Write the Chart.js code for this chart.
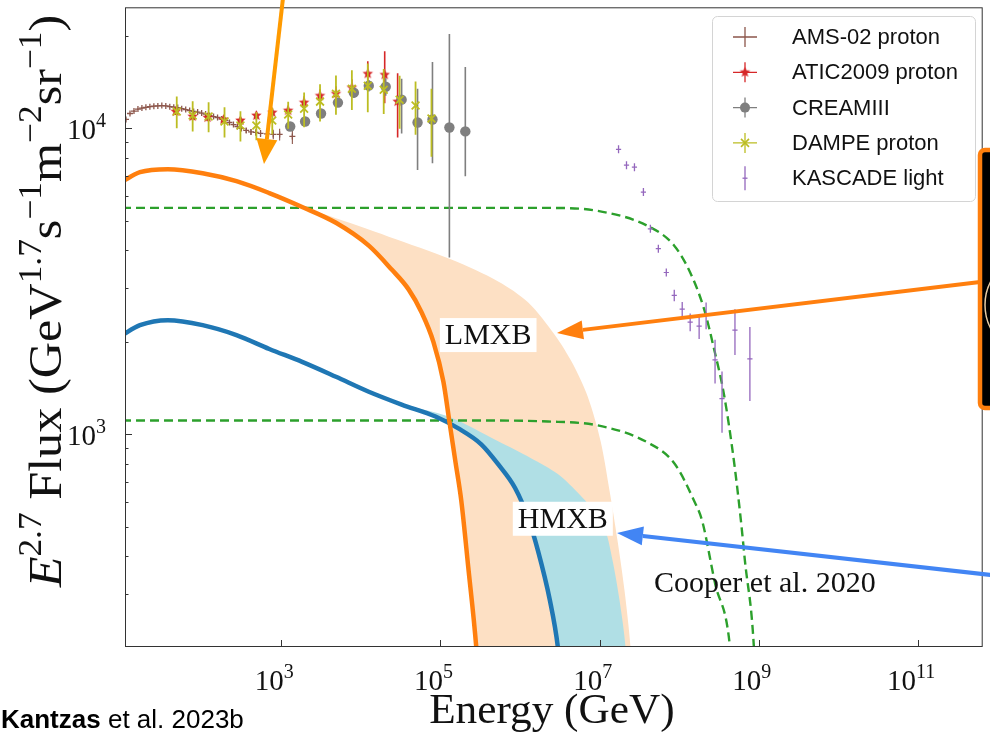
<!DOCTYPE html>
<html>
<head>
<meta charset="utf-8">
<title>Proton flux vs XRB models</title>
<script src="https://cdn.jsdelivr.net/npm/chart.js@4.4.1/dist/chart.umd.min.js"></script>
<style>
  html, body { margin: 0; padding: 0; background: #ffffff; }
  #fluxChart { display: block; }
</style>
</head>
<body>
<canvas id="fluxChart" width="990" height="735"></canvas>
<script>
// =============================================================================
// E^2.7-weighted proton flux: CR data vs. LMXB / HMXB jet models
// =============================================================================

// ==========================================
// 1. DATA
// ==========================================

// axis window (GeV / flux units)
const X_MIN = 10.9, X_MAX = 6.49e11;
const Y_MIN = 201.9, Y_MAX = 24890;

const xTickExps = [3, 5, 7, 9, 11];
const yTickExps = [3, 4];
const yMinorTicks = [300, 400, 500, 600, 700, 800, 900, 2000, 3000, 4000, 5000, 6000, 7000, 8000, 9000, 20000];

// model curves
const lmxbE = [10, 16.8, 37.6, 102.9, 273.8, 707.9, 1830, 4870, 12590, 24410, 39810, 57870, 81750, 109000, 129600, 154000, 183000, 223900, 281800, 325500];
const lmxbF = [6700, 7195, 7360, 7142, 6727, 6151, 5540, 4916, 4140, 3459, 2979, 2508, 2004, 1486, 1102, 817, 606, 367, 202, 117];

const hmxbE = [10, 16.8, 37.6, 102.9, 273.8, 707.9, 1830, 4870, 12590, 32560, 86600, 167900, 325500, 530900, 866000, 1.259e6, 1.679e6, 2.371e6, 2.985e6, 3.447e6];
const hmxbF = [2110, 2276, 2363, 2276, 2112, 1902, 1726, 1543, 1379, 1252, 1144, 1046, 928, 799, 668, 534, 417, 287, 202, 136];

// upper edges of the shaded bands
const lmxbUpperE = [1830, 3981, 22390, 137300, 530900, 1.259e6, 2.738e6, 4.597e6, 7.079e6, 1.029e7, 1.334e7, 1.679e7, 2.054e7, 2.441e7, 2.738e7];
const lmxbUpperF = [5540, 5180, 4428, 3728, 3162, 2703, 2112, 1701, 1329, 949, 653, 449, 309, 202, 117];

const hmxbUpperE = [32560, 125900, 530900, 1.373e6, 2.985e6, 5.788e6, 9.441e6, 1.189e7, 1.454e7, 1.778e7, 2.113e7, 2.304e7];
const hmxbUpperF = [1252, 1144, 949, 836, 742, 630, 542, 484, 387, 287, 202, 117];

// Cooper et al. 2020 (dashed)
const cooperHiE = [10, 125900, 2.239e6, 9.441e6, 3.981e7, 8.66e7, 1.372e8, 2.054e8, 2.738e8, 3.652e8, 4.87e8, 5.957e8, 6.683e8, 8.66e8, 9.44e8];
const cooperHiF = [5499, 5499, 5499, 5377, 4807, 4140, 3382, 2566, 1902, 1349, 817, 522, 387, 202, 117];

const cooperLoE = [10, 298500, 2.239e6, 9.441e6, 3.981e7, 8.66e7, 1.54e8, 1.939e8, 2.818e8, 4.34e8, 5.012e8];
const cooperLoF = [1110, 1110, 1102, 1070, 942, 805, 606, 522, 326, 202, 117];

// AMS-02 proton
const amsE = [11.22, 12.59, 14.13, 15.85, 17.78, 19.95, 22.39, 25.12, 28.18, 31.62, 35.48, 39.81, 44.67, 50.12, 56.23, 63.10, 70.79, 79.43, 89.13, 100, 112.2, 125.9, 141.3, 158.5, 177.8, 199.5, 223.9, 251.2, 281.8, 316.2, 363.1, 416.9, 478.6, 549.5, 660.7, 794.3, 955.0, 1380];
const amsF = [10700, 11190, 11400, 11570, 11660, 11720, 11780, 11830, 11850, 11880, 11850, 11780, 11740, 11700, 11610, 11530, 11440, 11360, 11310, 11230, 11140, 11020, 10940, 10860, 10740, 10620, 10460, 10300, 10150, 10000, 9852, 9740, 9705, 9630, 9600, 9560, 9560, 9420];
const amsErr = [60, 60, 60, 60, 60, 60, 60, 60, 60, 60, 60, 60, 60, 60, 60, 60, 60, 60, 60, 60, 70, 70, 80, 80, 90, 100, 120, 130, 140, 160, 180, 200, 220, 260, 300, 340, 420, 520];

// ATIC-2009 proton
const aticE = [47.3, 77.2, 118.9, 188.4, 307.3, 486.9, 771.7, 1223, 1939, 3073, 4870, 7718, 12230, 19950, 29000];
const aticF = [11360, 10940, 10860, 10700, 10620, 11020, 11270, 11440, 12150, 12790, 12990, 13590, 15090, 14980, 12240];
const aticErr = [300, 300, 300, 300, 300, 350, 400, 450, 600, 650, 750, 900, 1500, 2900, 2900];

// CREAM-III
const creamE = [1296, 1995, 3162, 5158, 8175, 12590, 20540, 32560, 51600, 79430, 129600, 205400];
const creamF = [10150, 10540, 11190, 12150, 13090, 13800, 13690, 12420, 10460, 10700, 10075, 9780];
const creamErrLo = [300, 300, 350, 400, 500, 600, 900, 2790, 3150, 3000, 6290, 2800];
const creamErrHi = [300, 300, 350, 400, 500, 600, 900, 2110, 3030, 5800, 10265, 6100];

// DAMPE proton
const dampeE = [48.7, 77.2, 122.4, 193.9, 307.3, 487.0, 771.8, 1223, 1939, 3073, 4870, 7718, 12230, 19390, 30730, 48700, 77180];
const dampeF = [11360, 11020, 10940, 10540, 10230, 10230, 10620, 11100, 11610, 12240, 12990, 13490, 13800, 13390, 12420, 11880, 10780];
const dampeErr = [1350, 1250, 1230, 1200, 1160, 1080, 1060, 1120, 1510, 1700, 1900, 2000, 2500, 2250, 2450, 2350, 2700];

// KASCADE light component
const kascadeE = [1.728e7, 2.175e7, 2.738e7, 3.548e7, 4.341e7, 5.465e7, 6.88e7, 8.66e7, 1.09e8, 1.372e8, 1.778e8, 2.175e8, 2.818e8, 3.447e8, 5.012e8, 7.72e8];
const kascadeF = [8550, 7585, 7470, 6197, 4700, 4047, 3382, 2848, 2566, 2328, 2259, 2453, 1752, 1309, 2192, 1765];
const kascadeErr = [256, 227, 224, 186, 141, 121, 101, 125, 143, 155, 210, 247, 285, 296, 374, 480];

// ==========================================
// 2. STYLE
// ==========================================

const C = {
    orange: '#ff7f0e',
    blue: '#1f77b4',
    peach: '#fde0c4',
    powder: '#b0dfe5',
    green: '#2ca02c',
    ams: '#8c564b',
    atic: '#d62728',
    cream: '#7f7f7f',
    dampe: '#bcbd22',
    kascade: '#9467bd',
    frame: '#333333'
};
const SERIF = '"Liberation Serif", "Times New Roman", serif';
const SANS = '"Liberation Sans", Arial, sans-serif';

const pts = (xs, ys) => xs.map((x, i) => ({ x, y: ys[i] }));

// closed outline: upper edge forward, lower curve back
const band = (upE, upF, loE, loF) => {
    const lower = pts(loE, loF).filter(p => p.x >= upE[0]).reverse();
    return pts(upE, upF).concat(lower);
};

const starMarker = (r, color) => {
    const c = document.createElement('canvas');
    c.width = c.height = 2 * r + 2;
    const g = c.getContext('2d');
    g.beginPath();
    for (let k = 0; k < 10; k++) {
        const rad = k % 2 ? r * 0.45 : r;
        const a = -Math.PI / 2 + k * Math.PI / 5;
        g.lineTo(r + 1 + rad * Math.cos(a), r + 1 + rad * Math.sin(a));
    }
    g.closePath();
    g.fillStyle = color;
    g.fill();
    return c;
};
const aticStar = starMarker(5.5, C.atic);

// ==========================================
// 3. PLUGINS
// ==========================================

// vertical error bars, drawn right before each data set so stacking matches
const errorBars = {
    id: 'errorBars',
    beforeDatasetDraw(chart, args) {
        const ds = chart.data.datasets[args.index];
        if (!ds.errLo) return;
        const { ctx, chartArea: a, scales: { x, y } } = chart;
        ctx.save();
        ctx.beginPath();
        ctx.rect(a.left, a.top, a.right - a.left, a.bottom - a.top);
        ctx.clip();
        ctx.strokeStyle = ds.errColor;
        ctx.lineWidth = ds.errWidth;
        ds.data.forEach((p, i) => {
            const px = x.getPixelForValue(p.x);
            const lo = Math.max(p.y - ds.errLo[i], 1);
            ctx.beginPath();
            ctx.moveTo(px, y.getPixelForValue(p.y + ds.errHi[i]));
            ctx.lineTo(px, y.getPixelForValue(lo));
            ctx.stroke();
        });
        ctx.restore();
    }
};

// text with superscripts; parts = [[text, kind]], kind: n | i | s
const drawRich = (ctx, parts, size, family, align, stretch = 1) => {
    const fontFor = k => `${k === 'i' ? 'italic ' : ''}${k === 's' ? Math.round(size * 0.7) : size}px ${family}`;
    const widths = parts.map(([t, k]) => { ctx.font = fontFor(k); return ctx.measureText(t).width; });
    const total = widths.reduce((s, w) => s + w, 0);
    let cx = align === 'right' ? -total : -total / 2;
    ctx.save();
    ctx.scale(stretch, 1);
    ctx.textAlign = 'left';
    ctx.textBaseline = 'alphabetic';
    parts.forEach(([t, k], i) => {
        ctx.font = fontFor(k);
        ctx.fillText(t, cx, k === 's' ? -size * 0.42 : 0);
        cx += widths[i];
    });
    ctx.restore();
};

const axesDecor = {
    id: 'axesDecor',
    afterDatasetsDraw(chart) {
        const { ctx, chartArea: a, scales: { x, y } } = chart;
        ctx.save();
        ctx.strokeStyle = C.frame;
        ctx.lineWidth = 1;
        ctx.strokeRect(a.left + 0.5, a.top + 0.5, a.right - a.left - 1, a.bottom - a.top - 1);

        ctx.beginPath();
        xTickExps.forEach(e => {
            const px = Math.round(x.getPixelForValue(10 ** e)) + 0.5;
            ctx.moveTo(px, a.bottom); ctx.lineTo(px, a.bottom - 7);
        });
        yTickExps.forEach(e => {
            const py = Math.round(y.getPixelForValue(10 ** e)) + 0.5;
            ctx.moveTo(a.left, py); ctx.lineTo(a.left + 7, py);
        });
        yMinorTicks.forEach(v => {
            const py = Math.round(y.getPixelForValue(v)) + 0.5;
            ctx.moveTo(a.left, py); ctx.lineTo(a.left + 3.5, py);
        });
        ctx.stroke();

        ctx.fillStyle = '#111';
        xTickExps.forEach(e => {
            ctx.save();
            ctx.translate(x.getPixelForValue(10 ** e) - 7, a.bottom + 43);
            drawRich(ctx, [['10', 'n'], [String(e), 's']], 29, SERIF, 'center');
            ctx.restore();
        });
        yTickExps.forEach(e => {
            ctx.save();
            ctx.translate(a.left - 19, y.getPixelForValue(10 ** e) + 11);
            drawRich(ctx, [['10', 'n'], [String(e), 's']], 29, SERIF, 'right');
            ctx.restore();
        });

        // axis titles
        ctx.save();
        ctx.translate((a.left + a.right) / 2 - 2, 723);
        drawRich(ctx, [['Energy (GeV)', 'n']], 42, SERIF, 'center', 1.03);
        ctx.restore();

        ctx.save();
        ctx.translate(61, 301);
        ctx.rotate(-Math.PI / 2);
        drawRich(ctx, [
            ['E', 'i'], ['2.7', 's'], [' Flux (GeV', 'n'], ['1.7', 's'],
            ['s', 'n'], ['\u22121', 's'], ['m', 'n'], ['\u22122', 's'],
            ['sr', 'n'], ['\u22121', 's'], [')', 'n']
        ], 47, SERIF, 'center', 1.07);
        ctx.restore();
        ctx.restore();
    }
};

const legendItems = [
    { label: 'AMS-02 proton', color: C.ams, marker: 'plus', hbar: true },
    { label: 'ATIC2009 proton', color: C.atic, marker: 'star', hbar: true },
    { label: 'CREAMIII', color: C.cream, marker: 'circle', hbar: true },
    { label: 'DAMPE proton', color: C.dampe, marker: 'x', hbar: true },
    { label: 'KASCADE light', color: C.kascade, marker: 'tick', hbar: false }
];

const legendBox = {
    id: 'legendBox',
    afterDatasetsDraw(chart) {
        const { ctx } = chart;
        const bx = 712, by = 16, bw = 263, bh = 185, rowH = 35.3;
        ctx.save();
        ctx.beginPath();
        ctx.roundRect(bx + 0.5, by + 0.5, bw, bh, 5);
        ctx.fillStyle = 'rgba(255,255,255,0.85)';
        ctx.fill();
        ctx.strokeStyle = '#d4d4d4';
        ctx.lineWidth = 1;
        ctx.stroke();

        legendItems.forEach((it, i) => {
            const cx = 745, cy = by + 21 + i * rowH;
            ctx.strokeStyle = it.color;
            ctx.fillStyle = it.color;
            ctx.lineWidth = 1.3;
            ctx.beginPath();
            if (it.hbar) { ctx.moveTo(cx - 12, cy); ctx.lineTo(cx + 12, cy); }
            ctx.moveTo(cx, cy - (it.hbar ? 10 : 12)); ctx.lineTo(cx, cy + (it.hbar ? 10 : 12));
            ctx.stroke();
            if (it.marker === 'star') ctx.drawImage(aticStar, cx - aticStar.width / 2, cy - aticStar.height / 2);
            if (it.marker === 'circle') { ctx.beginPath(); ctx.arc(cx, cy, 5, 0, Math.PI * 2); ctx.fill(); }
            if (it.marker === 'x') {
                ctx.lineWidth = 1.6;
                ctx.beginPath();
                ctx.moveTo(cx - 4, cy - 4); ctx.lineTo(cx + 4, cy + 4);
                ctx.moveTo(cx + 4, cy - 4); ctx.lineTo(cx - 4, cy + 4);
                ctx.stroke();
            }
            if (it.marker === 'tick') {
                ctx.beginPath(); ctx.moveTo(cx - 2.5, cy); ctx.lineTo(cx + 2.5, cy); ctx.stroke();
            }
            ctx.fillStyle = '#111';
            ctx.font = `22px ${SANS}`;
            ctx.textAlign = 'left';
            ctx.textBaseline = 'middle';
            ctx.fillText(it.label, 792, cy + 1);
        });
        ctx.restore();
    }
};

// slide annotations on top of the figure (pixel space)
const arrow = (ctx, x0, y0, x1, y1, color, w, headLen, headW) => {
    const ang = Math.atan2(y1 - y0, x1 - x0);
    const bx = x1 - headLen * Math.cos(ang), by = y1 - headLen * Math.sin(ang);
    ctx.strokeStyle = color;
    ctx.fillStyle = color;
    ctx.lineWidth = w;
    ctx.beginPath(); ctx.moveTo(x0, y0); ctx.lineTo(bx, by); ctx.stroke();
    ctx.beginPath();
    ctx.moveTo(x1, y1);
    ctx.lineTo(bx + headW / 2 * Math.sin(ang), by - headW / 2 * Math.cos(ang));
    ctx.lineTo(bx - headW / 2 * Math.sin(ang), by + headW / 2 * Math.cos(ang));
    ctx.closePath();
    ctx.fill();
};

const textLabels = [
    { text: 'LMXB', e: 3.98e5, f: 2112, box: true },
    { text: 'HMXB', e: 3.447e6, f: 530, box: true },
    { text: 'Cooper et al. 2020', e: 1.19e9, f: 326, box: false }
];

const overlays = {
    id: 'overlays',
    afterDraw(chart) {
        const { ctx, scales: { x, y } } = chart;
        ctx.save();
        textLabels.forEach(l => {
            const px = x.getPixelForValue(l.e), py = y.getPixelForValue(l.f);
            ctx.font = `30px ${SERIF}`;
            const w = ctx.measureText(l.text).width;
            if (l.box) {
                ctx.fillStyle = '#ffffff';
                ctx.fillRect(px - w / 2 - 5, py - 17, w + 10, 34);
            }
            ctx.fillStyle = '#111';
            ctx.textAlign = 'center';
            ctx.textBaseline = 'middle';
            ctx.fillText(l.text, px, py + 1);
        });

        arrow(ctx, 283, -2, 264, 164, '#ff9a00', 4, 25, 21);
        arrow(ctx, 980, 282, 557, 333, '#ff7f0e', 4, 26, 19);
        arrow(ctx, 1000, 576, 617, 533, '#4285f4', 4, 26, 19);

        // cropped inset frame at the right edge
        const inset = () => { ctx.beginPath(); ctx.roundRect(980, 150, 30, 258, 5); };
        inset();
        ctx.fillStyle = '#000';
        ctx.fill();
        ctx.save();
        ctx.clip();
        ctx.strokeStyle = '#e8cba2';
        ctx.lineWidth = 1.5;
        ctx.beginPath();
        ctx.arc(1035, 305, 50, 0, Math.PI * 2);
        ctx.stroke();
        ctx.restore();
        inset();
        ctx.strokeStyle = '#ff7f0e';
        ctx.lineWidth = 4.5;
        ctx.stroke();

        // citation
        ctx.fillStyle = '#000';
        ctx.textAlign = 'left';
        ctx.textBaseline = 'alphabetic';
        ctx.font = `bold 26px ${SANS}`;
        ctx.fillText('Kantzas', 1, 728);
        const kw = ctx.measureText('Kantzas').width;
        ctx.font = `26px ${SANS}`;
        ctx.fillText(' et al. 2023b', 1 + kw, 728);
        ctx.restore();
    }
};

// ==========================================
// 4. CHART
// ==========================================

const dataSet = (label, e, f, lo, hi, extra) => ({
    label,
    data: pts(e, f),
    errLo: lo,
    errHi: hi,
    showLine: false,
    clip: 0,
    ...extra
});

const curve = (label, e, f, extra) => ({
    label,
    data: pts(e, f),
    pointRadius: 0,
    cubicInterpolationMode: 'monotone',
    capBezierPoints: false,
    fill: false,
    clip: 0,
    ...extra
});

const shade = (label, outline, color, order) => ({
    label,
    order,
    data: outline,
    backgroundColor: color,
    borderWidth: 0,
    pointRadius: 0,
    tension: 0.3,
    capBezierPoints: false,
    fill: 'shape',
    clip: 0
});

new Chart(document.getElementById('fluxChart'), {
    type: 'line',
    data: {
        datasets: [
            dataSet('KASCADE light', kascadeE, kascadeF, kascadeErr, kascadeErr, {
                order: 1, pointStyle: 'line', pointRadius: 2.6, borderColor: C.kascade, pointBorderWidth: 1.2,
                errColor: C.kascade, errWidth: 1.3
            }),
            dataSet('DAMPE proton', dampeE, dampeF, dampeErr, dampeErr, {
                order: 2, pointStyle: 'crossRot', pointRadius: 5.5, borderColor: C.dampe, pointBorderWidth: 1.8,
                errColor: C.dampe, errWidth: 1.8
            }),
            dataSet('CREAMIII', creamE, creamF, creamErrLo, creamErrHi, {
                order: 3, pointStyle: 'circle', pointRadius: 5.2, backgroundColor: C.cream, borderColor: C.cream,
                pointBorderWidth: 0, errColor: C.cream, errWidth: 1.6
            }),
            dataSet('ATIC2009 proton', aticE, aticF, aticErr, aticErr, {
                order: 4, pointStyle: aticStar, pointRadius: 6, borderColor: C.atic,
                errColor: C.atic, errWidth: 1.6
            }),
            dataSet('AMS-02 proton', amsE, amsF, amsErr, amsErr, {
                order: 5, pointStyle: 'cross', pointRadius: 3, borderColor: C.ams, pointBorderWidth: 1.3,
                errColor: C.ams, errWidth: 1.1
            }),
            curve('LMXB', lmxbE, lmxbF, { order: 6, borderColor: C.orange, borderWidth: 4.5 }),
            curve('HMXB', hmxbE, hmxbF, { order: 7, borderColor: C.blue, borderWidth: 4.5 }),
            curve('Cooper high', cooperHiE, cooperHiF, { order: 8, borderColor: C.green, borderWidth: 2.4, borderDash: [9, 5] }),
            curve('Cooper low', cooperLoE, cooperLoF, { order: 9, borderColor: C.green, borderWidth: 2.4, borderDash: [9, 5] }),
            shade('HMXB band', band(hmxbUpperE, hmxbUpperF, hmxbE, hmxbF), C.powder, 10),
            shade('LMXB band', band(lmxbUpperE, lmxbUpperF, lmxbE, lmxbF), C.peach, 11)
        ]
    },
    options: {
        responsive: false,
        devicePixelRatio: 1,
        animation: false,
        events: [],
        layout: { padding: { top: 3, right: 3, left: 0, bottom: 0 } },
        plugins: { legend: { display: false }, tooltip: { enabled: false } },
        scales: {
            x: {
                type: 'logarithmic', min: X_MIN, max: X_MAX,
                ticks: { display: false }, grid: { display: false }, border: { display: false },
                afterFit: (s) => { s.height = 88; }
            },
            y: {
                type: 'logarithmic', min: Y_MIN, max: Y_MAX,
                ticks: { display: false }, grid: { display: false }, border: { display: false },
                afterFit: (s) => { s.width = 125; }
            }
        }
    },
    plugins: [errorBars, axesDecor, legendBox, overlays]
});
</script>
</body>
</html>
